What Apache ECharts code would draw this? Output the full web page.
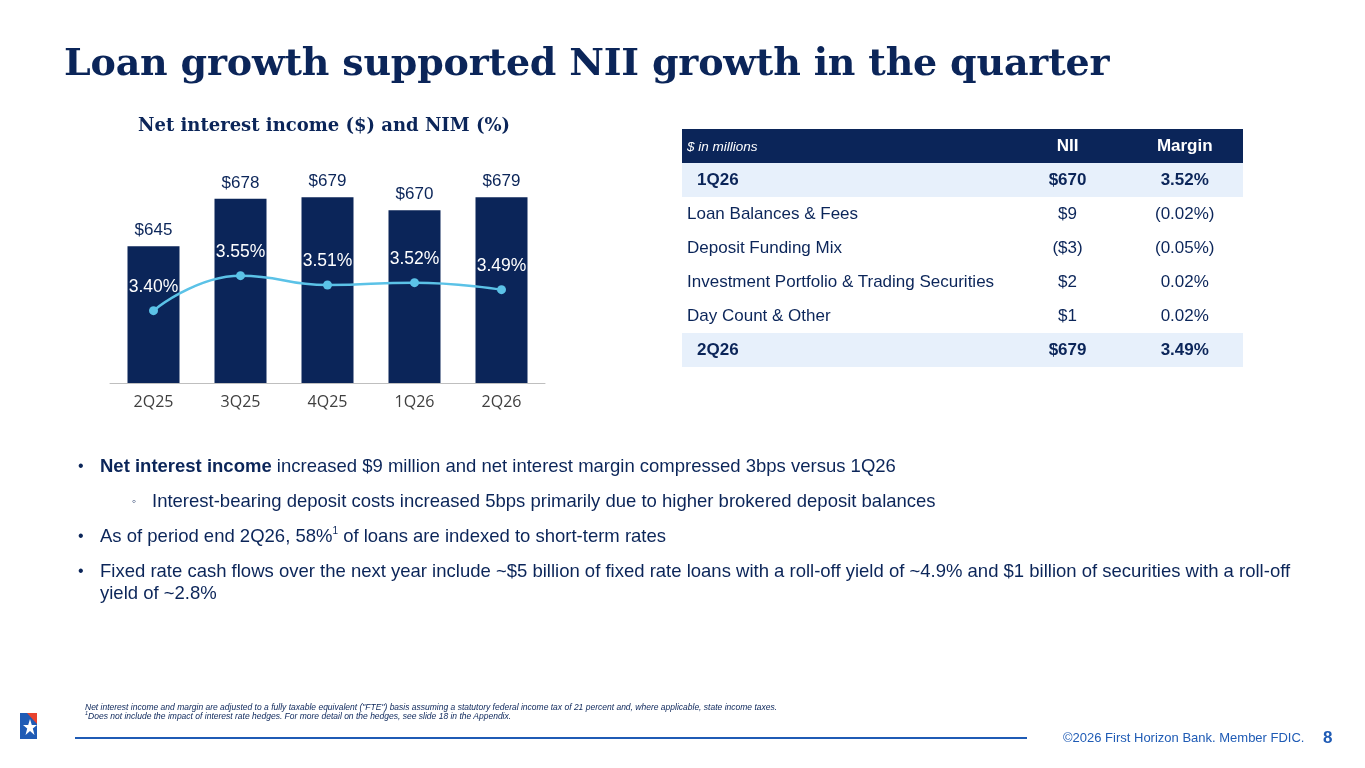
<!DOCTYPE html>
<html>
<head>
<meta charset="utf-8">
<script src="https://cdn.jsdelivr.net/npm/echarts@6/dist/echarts.min.js"></script>
<style>
    html, body { margin: 0; padding: 0; background: #fff; }
    body { width: 1365px; height: 768px; position: relative; overflow: hidden; font-family: "Liberation Sans", Arial, sans-serif; color: #0B2559; }
    #chart { position: absolute; left: 0; top: 0; width: 1365px; height: 768px; }
    .title { position: absolute; left: 64px; top: 39px; font-family: "DejaVu Serif", serif; font-weight: bold; font-size: 38px; color: #0B2559; letter-spacing: -0.2px; white-space: nowrap; }
    .ctitle { position: absolute; left: 138px; top: 114px; font-family: "DejaVu Serif", serif; font-weight: bold; font-size: 18px; color: #0B2559; white-space: nowrap; }
    table.nii { position: absolute; left: 682px; top: 129px; width: 561px; border-collapse: collapse; font-size: 17px; color: #0B2559; }
    table.nii td { height: 34px; padding: 0; }
    table.nii td.c1 { width: 318px; padding-left: 5px; }
    table.nii td.c2 { width: 120px; text-align: center; }
    table.nii td.c3 { width: 118px; text-align: center; }
    table.nii tr.hd { background: #0B2559; color: #fff; }
    table.nii tr.hd td.c1 { font-style: italic; font-size: 13.5px; }
    table.nii tr.hd td.c2, table.nii tr.hd td.c3 { font-weight: bold; }
    table.nii tr.tot { background: #E7F0FB; font-weight: bold; }
    table.nii tr.tot td.c1 { padding-left: 15px; }
    .bl { position: absolute; font-size: 18.5px; color: #0B2559; white-space: nowrap; line-height: 22px; }
    .bl .dot { position: absolute; left: -22px; font-size: 16px; }
    .foot { position: absolute; left: 85px; top: 703px; font-size: 8.5px; font-style: italic; color: #0B2559; line-height: 9px; white-space: nowrap; }
    .rule { position: absolute; left: 75px; top: 737px; width: 952px; height: 2px; background: #1F5BB5; }
    .copy { position: absolute; left: 1063px; top: 730px; font-size: 13px; color: #1F5BB5; white-space: nowrap; }
    .page { position: absolute; left: 1323px; top: 728px; font-size: 17px; font-weight: bold; color: #1F5BB5; }
    .logo { position: absolute; left: 19px; top: 712px; }
</style>
</head>
<body>
<div id="chart"></div>
<div class="title">Loan growth supported NII growth in the quarter</div>
<div class="ctitle">Net interest income ($) and NIM (%)</div>

<table class="nii">
    <tr class="hd"><td class="c1">$ in millions</td><td class="c2">NII</td><td class="c3">Margin</td></tr>
    <tr class="tot"><td class="c1">1Q26</td><td class="c2">$670</td><td class="c3">3.52%</td></tr>
    <tr><td class="c1">Loan Balances &amp; Fees</td><td class="c2">$9</td><td class="c3">(0.02%)</td></tr>
    <tr><td class="c1">Deposit Funding Mix</td><td class="c2">($3)</td><td class="c3">(0.05%)</td></tr>
    <tr><td class="c1">Investment Portfolio &amp; Trading Securities</td><td class="c2">$2</td><td class="c3">0.02%</td></tr>
    <tr><td class="c1">Day Count &amp; Other</td><td class="c2">$1</td><td class="c3">0.02%</td></tr>
    <tr class="tot"><td class="c1">2Q26</td><td class="c2">$679</td><td class="c3">3.49%</td></tr>
</table>

<div class="bl" style="left:100px; top:455px;"><span class="dot">•</span><b>Net interest income</b> increased $9 million and net interest margin compressed 3bps versus 1Q26</div>
<div class="bl" style="left:152px; top:490px;"><span class="dot" style="left:-20px; font-size:12px;">◦</span>Interest-bearing deposit costs increased 5bps primarily due to higher brokered deposit balances</div>
<div class="bl" style="left:100px; top:525px;"><span class="dot">•</span>As of period end 2Q26, 58%<sup style="font-size:10px; vertical-align:8px; line-height:0;">1</sup> of loans are indexed to short-term rates</div>
<div class="bl" style="left:100px; top:560px;"><span class="dot">•</span>Fixed rate cash flows over the next year include ~$5 billion of fixed rate loans with a roll-off yield of ~4.9% and $1 billion of securities with a roll-off<br>yield of ~2.8%</div>

<div class="foot">Net interest income and margin are adjusted to a fully taxable equivalent ("FTE") basis assuming a statutory federal income tax of 21 percent and, where applicable, state income taxes.<br><sup style="font-size:5.5px; line-height:0;">1</sup>Does not include the impact of interest rate hedges. For more detail on the hedges, see slide 18 in the Appendix.</div>
<div class="rule"></div>
<div class="copy">©2026 First Horizon Bank. Member FDIC.</div>
<div class="page">8</div>
<svg class="logo" width="20" height="28" viewBox="0 0 20 28">
    <rect x="1" y="1" width="17" height="26" fill="#1F5BB5"/>
    <polygon points="8,1 18,1 18,12" fill="#E8432E"/>
    <polygon points="11,7 12.8,13 18,13 13.8,16.5 15.5,23 11,19 6.5,23 8.2,16.5 4,13 9.2,13" fill="#fff"/>
</svg>

<script>
// 季度
var quarters = ['2Q25', '3Q25', '4Q25', '1Q26', '2Q26'];
// 净利息收入 ($ millions)
var niiValues = [645, 678, 679, 670, 679];
// 净息差 (%)
var nimValues = [3.40, 3.55, 3.51, 3.52, 3.49];

var myChart = echarts.init(document.getElementById('chart'));

var option = {
    animation: false,
    textStyle: { fontFamily: 'Liberation Sans' },
    grid: {
        left: 110,
        top: 131,
        width: 435,
        height: 252
    },
    xAxis: {
        type: 'category',
        data: quarters,
        axisLine: { lineStyle: { color: '#BFBFBF', width: 1 } },
        axisTick: { show: false },
        axisLabel: { color: '#404040', fontSize: 16, fontFamily: 'Open Sans', margin: 11 }
    },
    yAxis: [{
        type: 'value',
        min: 550,
        max: 725,
        show: false,
        splitLine: { show: false }
    }, {
        type: 'value',
        min: 3.09,
        max: 4.17,
        show: false,
        splitLine: { show: false }
    }],
    series: [{
        name: 'NII',
        type: 'bar',
        data: niiValues,
        barWidth: 52,
        itemStyle: { color: '#0B2559' },
        label: {
            show: true,
            position: 'top',
            distance: 7,
            color: '#0B2559',
            fontSize: 17,
            formatter: function (p) { return '$' + p.value; }
        }
    }, {
        name: 'NIM',
        type: 'line',
        yAxisIndex: 1,
        data: nimValues,
        smooth: true,
        symbol: 'circle',
        symbolSize: 9,
        lineStyle: { color: '#5BC2E7', width: 2.5 },
        itemStyle: { color: '#5BC2E7' },
        label: {
            show: true,
            position: 'top',
            distance: 10,
            color: '#FFFFFF',
            fontSize: 17.5,
            formatter: function (p) { return p.value.toFixed(2) + '%'; }
        }
    }]
};

myChart.setOption(option);
</script>
</body>
</html>
